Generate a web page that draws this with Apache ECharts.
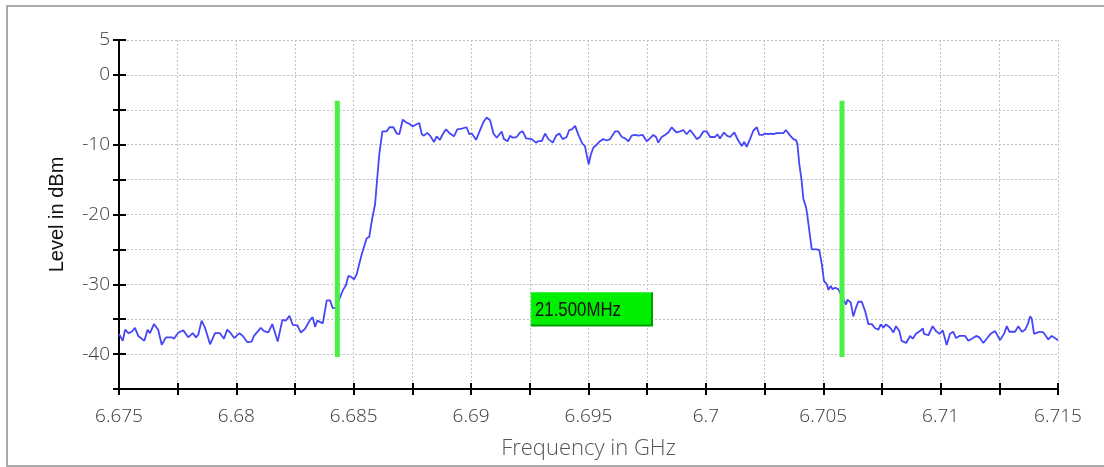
<!DOCTYPE html>
<html>
<head>
<meta charset="utf-8">
<script src="https://cdn.jsdelivr.net/npm/echarts@6/dist/echarts.min.js"></script>
<style>
html,body{margin:0;padding:0;background:#fff;}
#main{width:1104px;height:467px;}
</style>
</head>
<body>
<div id="main"></div>
<script>
// spectrum trace, frequency in GHz / level in dBm
var freqGHz = [
	6.675, 6.67516, 6.67526, 6.6754, 6.67554, 6.67568, 6.67582, 6.67608, 6.67622, 6.67632,
	6.67649, 6.67667, 6.67682, 6.677, 6.67725, 6.67734, 6.67753, 6.67774, 6.67795, 6.67814,
	6.67828, 6.67838, 6.67852, 6.67866, 6.67888, 6.67909, 6.6793, 6.67947, 6.67961, 6.67976,
	6.67991, 6.68013, 6.6803, 6.68047, 6.68065, 6.68075, 6.68104, 6.68118, 6.68136, 6.68153,
	6.68176, 6.68196, 6.68211, 6.68226, 6.6824, 6.6826, 6.68274, 6.68292, 6.68314, 6.68325,
	6.68335, 6.68345, 6.68368, 6.68385, 6.68399, 6.6841, 6.68423, 6.68441, 6.68453, 6.68467,
	6.68477, 6.68487, 6.68501, 6.68513, 6.68534, 6.68555, 6.68566, 6.68577, 6.68591, 6.68598,
	6.68609, 6.68622, 6.6864, 6.68652, 6.68669, 6.68683, 6.68694, 6.68709, 6.68723, 6.68737,
	6.68751, 6.68765, 6.68779, 6.6879, 6.68799, 6.68813, 6.68825, 6.68842, 6.68853, 6.68867,
	6.68879, 6.68893, 6.6891, 6.68927, 6.68941, 6.6896, 6.68981, 6.68992, 6.69003, 6.69021,
	6.69038, 6.69052, 6.69066, 6.69081, 6.69095, 6.69109, 6.6913, 6.6914, 6.69156, 6.69166,
	6.69177, 6.69194, 6.69208, 6.6922, 6.69234, 6.69258, 6.69276, 6.69286, 6.69301, 6.69315,
	6.69329, 6.69348, 6.69362, 6.69376, 6.6939, 6.69407, 6.69418, 6.69429, 6.69443, 6.69457,
	6.69464, 6.69474, 6.69485, 6.69492, 6.69501, 6.6951, 6.69521, 6.69535, 6.69549, 6.69563,
	6.69578, 6.69592, 6.696, 6.69613, 6.69627, 6.69642, 6.69656, 6.6967, 6.69684, 6.69698,
	6.69712, 6.69731, 6.69748, 6.69762, 6.69776, 6.69788, 6.69797, 6.69812, 6.69826, 6.6984,
	6.69855, 6.69864, 6.69876, 6.6989, 6.69904, 6.69918, 6.69933, 6.69947, 6.69961, 6.69975,
	6.69989, 6.70004, 6.70018, 6.70039, 6.70049, 6.7006, 6.70077, 6.70089, 6.70103, 6.70121,
	6.70138, 6.70153, 6.70163, 6.70174, 6.70188, 6.70202, 6.70217, 6.70228, 6.70242, 6.70252,
	6.70266, 6.70276, 6.70287, 6.70302, 6.7033, 6.70341, 6.70359, 6.70373, 6.70384, 6.7039,
	6.70398, 6.70408, 6.70415, 6.70427, 6.70432, 6.70441, 6.70451, 6.70458, 6.70472, 6.70483,
	6.70494, 6.70503, 6.70515, 6.70522, 6.70532, 6.7054, 6.7055, 6.70564, 6.70571, 6.70597,
	6.70603, 6.70617, 6.70628, 6.7064, 6.70649, 6.70664, 6.70678, 6.70692, 6.70707, 6.70721,
	6.70735, 6.70745, 6.70756, 6.70767, 6.70784, 6.70799, 6.7081, 6.70824, 6.70834, 6.70853,
	6.7087, 6.70881, 6.70895, 6.70912, 6.70924, 6.70929, 6.70948, 6.70966, 6.7098, 6.70995,
	6.71009, 6.71026, 6.7104, 6.71054, 6.71066, 6.7108, 6.71104, 6.71118, 6.71133, 6.71151,
	6.71165, 6.71182, 6.71196, 6.71213, 6.71232, 6.71253, 6.7127, 6.71282, 6.71293, 6.71317,
	6.71331, 6.71346, 6.7136, 6.71371, 6.71381, 6.71388, 6.71398, 6.71421, 6.71438, 6.71459,
	6.71473, 6.71487, 6.715
];
var levelDbm = [
	-37.1, -38.1, -36.5, -37.0, -36.8, -36.25, -37.4, -38.1, -36.5, -37.0,
	-35.7, -36.5, -38.65, -37.6, -37.6, -37.8, -36.9, -36.6, -37.6, -37.0,
	-37.6, -37.2, -35.2, -36.2, -38.6, -37.0, -37.0, -37.8, -36.5, -37.0,
	-37.7, -37.0, -37.5, -38.3, -38.2, -37.4, -36.25, -36.7, -36.9, -35.7,
	-38.2, -35.1, -35.2, -34.5, -35.8, -35.9, -36.9, -36.4, -35.1, -34.7,
	-36.1, -35.2, -35.6, -32.3, -32.3, -33.4, -33.4, -31.9, -30.9, -30.1,
	-28.8, -28.9, -29.3, -28.5, -25.7, -23.4, -23.2, -20.9, -18.5, -15.6,
	-11.3, -8.1, -8.1, -7.5, -7.5, -8.4, -8.5, -6.4, -6.8, -7.0,
	-7.4, -7.1, -6.9, -8.5, -8.7, -8.3, -8.7, -9.6, -8.8, -9.3,
	-8.5, -7.8, -8.4, -8.8, -7.8, -7.7, -7.5, -8.5, -8.4, -9.3,
	-7.9, -6.8, -6.1, -6.5, -8.4, -9.0, -8.1, -9.2, -9.5, -8.7,
	-9.0, -8.9, -8.25, -8.1, -9.1, -9.2, -9.7, -9.5, -9.5, -8.4,
	-9.2, -9.7, -8.7, -8.4, -9.2, -8.9, -7.9, -7.8, -7.3, -8.6,
	-8.7, -9.85, -10.2, -11.4, -12.8, -11.4, -10.4, -10.0, -9.5, -9.2,
	-9.4, -9.2, -9.4, -8.1, -8.1, -8.9, -9.1, -9.5, -8.7, -8.6,
	-8.7, -8.6, -9.5, -9.1, -8.6, -8.9, -9.7, -8.9, -8.6, -8.25,
	-7.5, -7.9, -8.25, -8.1, -7.9, -8.5, -7.9, -8.5, -9.2, -8.9,
	-8.1, -8.1, -8.9, -8.9, -8.5, -9.1, -8.25, -8.7, -8.9, -8.25,
	-9.4, -10.2, -9.6, -10.3, -9.2, -8.0, -7.5, -8.6, -8.6, -8.4,
	-8.5, -8.4, -8.5, -8.35, -8.35, -7.9, -8.7, -9.2, -9.35, -9.9,
	-12.8, -15.2, -17.7, -19.0, -20.1, -22.4, -25.0, -25.2, -25.0, -25.1,
	-27.1, -29.5, -30.0, -30.8, -30.25, -30.7, -30.5, -30.7, -30.9, -32.9,
	-32.2, -32.6, -34.6, -33.3, -32.5, -32.5, -33.8, -35.7, -35.7, -36.3,
	-36.5, -35.75, -36.2, -35.75, -36.2, -36.9, -36.0, -36.7, -38.1, -38.4,
	-37.4, -37.8, -37.1, -36.7, -36.3, -37.1, -37.3, -36.0, -36.7, -37.1,
	-36.6, -38.7, -37.1, -36.8, -37.7, -37.4, -37.4, -38.1, -37.8, -37.4,
	-37.6, -38.4, -37.8, -37.1, -36.7, -38.0, -37.1, -36.0, -36.8, -36.8,
	-36.0, -36.8, -36.5, -35.75, -34.6, -34.9, -37.1, -36.8, -36.9, -37.9,
	-37.4, -37.7, -38.0
];
// band markers
var markerFreqs = [6.6843, 6.7058];
var markerLevels = [-3.7, -40.4];
var bandLabel = '21.500MHz';
var bandLabelAt = [6.69255, -33.6];

var traceData = [];
for (var i = 0; i < freqGHz.length; i++) {
	traceData.push([freqGHz[i], levelDbm[i]]);
}

var xMin = 6.675, xMax = 6.715, xStep = 0.0025;
var yMin = -45, yMax = 5, yStep = 5;

var tickStyle = {color: '#000', width: 2};
var labelFont = '"Open Sans", Lato, sans-serif';

var series = [{
	type: 'line',
	xAxisIndex: 0,
	yAxisIndex: 0,
	data: traceData,
	symbol: 'none',
	lineStyle: {color: '#4646f8', width: 1.8},
	z: 2
}];
for (var m = 0; m < markerFreqs.length; m++) {
	series.push({
		type: 'line',
		xAxisIndex: 0,
		yAxisIndex: 0,
		data: [[markerFreqs[m], markerLevels[0]], [markerFreqs[m], markerLevels[1]]],
		symbol: 'none',
		lineStyle: {color: '#48f048', width: 5, cap: 'butt'},
		z: 3
	});
}

var frame = {
	type: 'rect',
	id: 'frame',
	shape: {x: 7, y: 6, width: 1110, height: 460},
	style: {fill: 'none', stroke: '#ababab', lineWidth: 2},
	silent: true,
	z: -1
};

var myChart = echarts.init(document.getElementById('main'));
var option = {
	animation: false,
	backgroundColor: '#fff',
	grid: [
		{left: 119, right: 46, top: 40, bottom: 78},
		{left: 119, right: 46, top: 40, bottom: 78}
	],
	graphic: [frame],
	xAxis: [{
		type: 'value',
		gridIndex: 0,
		min: xMin,
		max: xMax,
		interval: xStep,
		axisLine: {onZero: false, lineStyle: tickStyle},
		axisTick: {length: 6, lineStyle: tickStyle},
		axisLabel: {
			margin: 18,
			fontSize: 19,
			fontWeight: 300,
			color: '#3a3a3a',
			fontFamily: labelFont,
			formatter: function (val, idx) {
				return idx % 2 === 0 ? String(parseFloat(val.toFixed(4))) : '';
			}
		},
		splitLine: {show: true, lineStyle: {color: '#c0c0c0', width: 1, type: [2, 2]}},
		name: 'Frequency in GHz',
		nameLocation: 'middle',
		nameGap: 49,
		nameTextStyle: {fontSize: 22, fontWeight: 300, color: '#555', fontFamily: labelFont}
	}, {
		type: 'value',
		gridIndex: 1,
		min: xMin,
		max: xMax,
		interval: xStep,
		axisLine: {show: false, onZero: false},
		axisTick: {inside: true, length: 6, lineStyle: tickStyle},
		axisLabel: {show: false},
		splitLine: {show: false}
	}],
	yAxis: [{
		type: 'value',
		gridIndex: 0,
		min: yMin,
		max: yMax,
		interval: yStep,
		axisLine: {show: true, onZero: false, lineStyle: tickStyle},
		axisTick: {show: true, length: 6, lineStyle: tickStyle},
		axisLabel: {
			margin: 9,
			fontSize: 19,
			fontWeight: 300,
			color: '#3a3a3a',
			fontFamily: labelFont,
			formatter: function (val) {
				return (val === 5 || val % 10 === 0) ? String(val) : '';
			}
		},
		splitLine: {show: true, lineStyle: {color: '#c0c0c0', width: 1, type: [2, 2]}},
		name: 'Level in dBm',
		nameLocation: 'middle',
		nameRotate: 90,
		nameGap: 52,
		nameTextStyle: {fontSize: 20, color: '#111', fontFamily: '"Liberation Sans", Arial, sans-serif'}
	}, {
		type: 'value',
		gridIndex: 1,
		min: yMin,
		max: yMax,
		interval: yStep,
		axisLine: {show: false, onZero: false},
		axisTick: {show: true, inside: true, length: 7, lineStyle: tickStyle},
		axisLabel: {show: false},
		splitLine: {show: false}
	}],
	series: series
};
myChart.setOption(option);

// bandwidth readout box, anchored at its left-middle data point
var p = myChart.convertToPixel({gridIndex: 0}, bandLabelAt);
myChart.setOption({
	graphic: [frame, {
		type: 'group',
		id: 'bandBox',
		x: Math.round(p[0]),
		y: Math.round(p[1]),
		children: [{
			type: 'rect',
			z: 20,
			shape: {x: 0, y: -16.5, width: 121, height: 33},
			style: {fill: '#00ee00', stroke: '#44f044', lineWidth: 1}
		}, {
			type: 'polyline',
			z: 21,
			shape: {points: [[121, -16.5], [121, 16.5], [0, 16.5]]},
			style: {stroke: '#00a000', lineWidth: 2, fill: null}
		}, {
			type: 'text',
			z: 22,
			x: 4,
			y: 1,
			scaleX: 0.8,
			style: {
				text: bandLabel,
				fill: '#111',
				font: '21px "Liberation Sans", Arial, sans-serif',
				align: 'left',
				verticalAlign: 'middle'
			}
		}]
	}]
});
</script>
</body>
</html>
